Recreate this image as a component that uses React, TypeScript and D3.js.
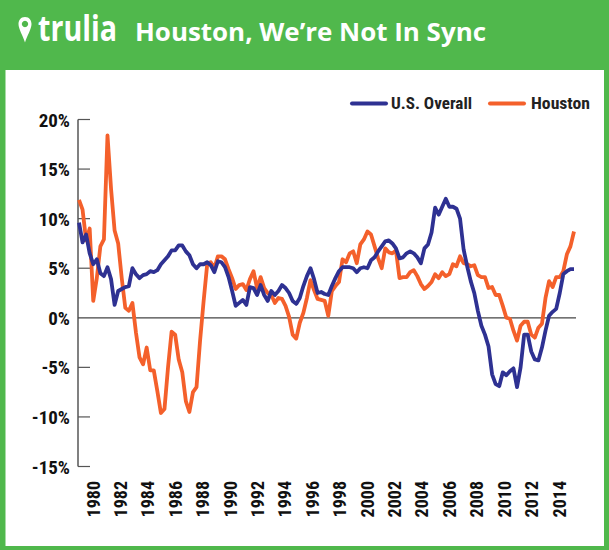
import React from "react";
import * as d3 from "d3";

const W = 609, H = 550;
const houston = [11.9,10.9,7.8,9,1.7,4,7.2,7.9,18.4,13,8.8,7.5,4,1,0.7,1.5,-1.5,-4,-4.7,-3,-5.3,-5.3,-7.4,-9.6,-9.2,-5,-1.4,-1.7,-4.2,-5.5,-8.4,-9.5,-7.5,-7,-2.3,1.7,5.4,5.6,5,6.2,6.2,5.9,4.9,4,2.9,3.3,
3.4,2.8,3.9,4.7,3,4.1,3,2.5,2.3,1.5,2,1.9,1.2,0.1,-1.7,-2.1,-0.5,0.5,2,3.8,2.8,1.9,1.8,1.7,0.2,2.7,3.2,3.6,5.9,5.6,6.5,6.7,5.5,7.4,7.9,8.7,8.4,7.2,6,5,7,6.6,6.5,6.8,4,4.1,4.1,4.6,
4.8,4.2,3.4,2.9,3.2,3.6,4.4,4,4.6,4.2,4.4,5.4,5.2,6.2,5.5,5.4,5.2,5.3,4.3,4.1,4.1,3,3.1,2.3,2.3,1.2,0,-0.1,-1.3,-2.3,-0.8,-0.4,-0.4,-1.7,-2,-1,-0.6,2,3.7,3.1,4.1,4.1,4.7,6.4,7.2,8.7];
const usOverall = [9.6,7.6,8.4,6.5,5.4,5.9,4.5,4.2,5.1,3.9,1.3,2.7,2.9,3.1,3.2,5,4.4,4,4.3,4.4,4.7,4.6,4.8,5.4,5.8,6.2,6.8,6.8,7.3,7.3,6.7,6.3,5.4,5,5.4,5.4,5.6,5.3,4.6,5.7,5.6,5.1,4.1,2.7,1.2,1.5,
1.8,1.3,3.1,3,2.3,3.3,2.3,1.7,2.7,2.3,2.7,3.3,3,2.5,1.7,1.4,2,3.2,4.2,5,3.9,2.5,2.6,2.4,2.3,3.2,4,4.7,5.1,5.1,5.1,5,4.6,5,5.1,5,5.8,6.1,6.7,7.2,7.7,7.8,7.5,7,6,6.1,6.5,6.7,
6.5,6.1,5.5,7,7.4,8.6,11.1,10.4,11.2,12,11.2,11.2,11,10,6.9,5.2,3.7,2.5,0.7,-0.8,-1.7,-2.9,-5.7,-6.7,-6.9,-5.5,-5.8,-5.4,-5.1,-7,-5,-1.7,-1.7,-3.4,-4.2,-4.3,-3,-1.3,0.2,0.6,0.9,2.5,4.4,4.7,4.9,4.9];
const yTicks = [20,15,10,5,0,-5,-10,-15];
const xLabels = [1980,1982,1984,1986,1988,1990,1992,1994,1996,1998,2000,2002,2004,2006,2008,2010,2012,2014];

const GREEN = "#50b84c", BLUE = "#2e3192", ORANGE = "#f4602b";
const NARROW = "'Liberation Sans Narrow','Roboto Condensed','Liberation Sans',sans-serif";

const App = () => {
  const x = d3.scaleLinear().domain([0, houston.length - 1]).range([79, 574]);
  const xYear = d3.scaleLinear().domain([1980, 2014]).range([93, 559]);
  const y = d3.scaleLinear().domain([-15, 20]).range([466.5, 119.5]);
  const line = d3.line<number>().x((_, i) => x(i)).y(d => y(d));
  return (
    <svg width={W} height={H} style={{ position: "absolute", left: 0, top: 0, display: "block" }}>
      <rect width={W} height={H} fill={GREEN} />
      <rect x={5.5} y={70} width={598.5} height={476} fill="#fff" />
      {/* logo */}
      <path d="M25 17 C20.5 17 18.5 20.5 18.5 24 C18.5 29 23 36 25 42.5 C27 36 31.5 29 31.5 24 C31.5 20.5 29.5 17 25 17 Z M25 20.8 a3.2 3.2 0 1 1 -0.01 0 Z" fill="#fff" fillRule="evenodd" />
      <text x={38} y={41} fill="#fff" fontFamily="'Open Sans',sans-serif" fontWeight={700} fontSize={35} textLength={79} lengthAdjust="spacingAndGlyphs">trulia</text>
      <text x={135} y={41} fill="#fff" fontFamily="'Open Sans',sans-serif" fontWeight={700} fontSize={25} textLength={351} lengthAdjust="spacingAndGlyphs">Houston, We’re Not In Sync</text>
      {/* legend */}
      <line x1={352} x2={386} y1={103.5} y2={103.5} stroke={BLUE} strokeWidth={4} strokeLinecap="round" />
      <text x={391} y={109} fontFamily={NARROW} fontWeight={700} fontSize={17} fill="#222" textLength={81} lengthAdjust="spacingAndGlyphs">U.S. Overall</text>
      <line x1={490} x2={524} y1={103.5} y2={103.5} stroke={ORANGE} strokeWidth={4} strokeLinecap="round" />
      <text x={531} y={109} fontFamily={NARROW} fontWeight={700} fontSize={17} fill="#222" textLength={59} lengthAdjust="spacingAndGlyphs">Houston</text>
      {/* axes */}
      <line x1={78} x2={78} y1={y(20)} y2={y(-15)} stroke="#808080" strokeWidth={2} />
      {yTicks.map(t => (
        <g key={t}>
          <line x1={78} x2={t === 0 ? 576 : 90} y1={y(t)} y2={y(t)} stroke={t === 0 ? "#444" : "#555"} strokeWidth={1.2} />
          <text x={70} y={y(t) + 7} textAnchor="end" fontFamily={NARROW} fontWeight={700} fontSize={19} fill="#111">{t}%</text>
        </g>
      ))}
      {xLabels.map(l => (
        <text key={l} transform={`translate(${xYear(l) + 6.5},481) rotate(-90)`} textAnchor="end" fontFamily={NARROW} fontWeight={700} fontSize={18} fill="#111">{l}</text>
      ))}
      <path d={line(houston) ?? ""} fill="none" stroke={ORANGE} strokeWidth={3.8} strokeLinejoin="round" />
      <path d={line(usOverall) ?? ""} fill="none" stroke={BLUE} strokeWidth={3.8} strokeLinejoin="round" />
    </svg>
  );
};

export default App;
